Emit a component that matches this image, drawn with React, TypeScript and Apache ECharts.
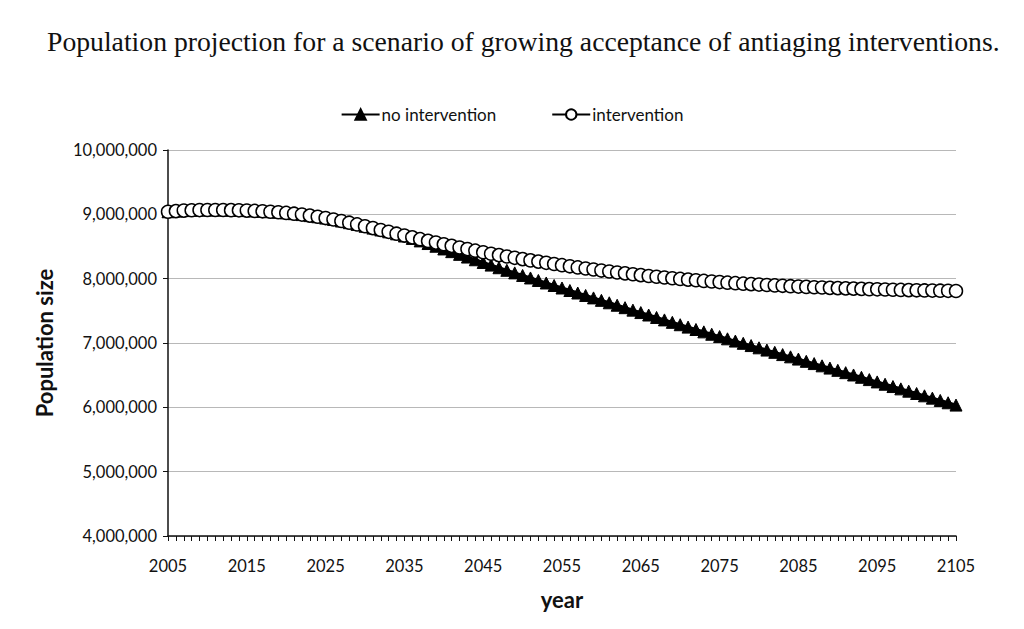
import React, { useEffect, useRef } from "react";
import * as echarts from "echarts";

const years: string[] = [
  "2005","2006","2007","2008","2009","2010","2011","2012","2013","2014",
  "2015","2016","2017","2018","2019","2020","2021","2022","2023","2024",
  "2025","2026","2027","2028","2029","2030","2031","2032","2033","2034",
  "2035","2036","2037","2038","2039","2040","2041","2042","2043","2044",
  "2045","2046","2047","2048","2049","2050","2051","2052","2053","2054",
  "2055","2056","2057","2058","2059","2060","2061","2062","2063","2064",
  "2065","2066","2067","2068","2069","2070","2071","2072","2073","2074",
  "2075","2076","2077","2078","2079","2080","2081","2082","2083","2084",
  "2085","2086","2087","2088","2089","2090","2091","2092","2093","2094",
  "2095","2096","2097","2098","2099","2100","2101","2102","2103","2104",
  "2105",
];

const noIntervention: number[] = [
  9040000, 9050000, 9058000, 9063000, 9066000, 9068000, 9068000, 9067000, 9065000, 9062000,
  9058000, 9053000, 9047000, 9040000, 9032000, 9022000, 9010000, 8996000, 8980000, 8962000,
  8942000, 8920000, 8896000, 8870000, 8843000, 8815000, 8786000, 8757000, 8728000, 8697000,
  8663000, 8626000, 8587000, 8546000, 8504000, 8462000, 8420000, 8378000, 8336000, 8294000,
  8252000, 8211000, 8170000, 8130000, 8090000, 8050000, 8011000, 7972000, 7933000, 7894000,
  7855000, 7816000, 7777000, 7739000, 7701000, 7663000, 7625000, 7587000, 7549000, 7511000,
  7473000, 7435000, 7397000, 7359000, 7321000, 7284000, 7247000, 7210000, 7173000, 7136000,
  7100000, 7065000, 7030000, 6995000, 6960000, 6925000, 6890000, 6855000, 6820000, 6785000,
  6750000, 6715000, 6680000, 6645000, 6610000, 6575000, 6539000, 6503000, 6467000, 6431000,
  6395000, 6359000, 6323000, 6287000, 6251000, 6215000, 6179000, 6143000, 6107000, 6071000,
  6035000,
];

const intervention: number[] = [
  9040000, 9050000, 9058000, 9063000, 9066000, 9068000, 9068000, 9067000, 9065000, 9062000,
  9058000, 9053000, 9047000, 9040000, 9032000, 9022000, 9010000, 8996000, 8980000, 8962000,
  8942000, 8920000, 8896000, 8870000, 8843000, 8815000, 8786000, 8757000, 8728000, 8699000,
  8670000, 8642000, 8614000, 8587000, 8561000, 8535000, 8510000, 8485000, 8460000, 8435000,
  8410000, 8388000, 8366000, 8345000, 8324000, 8304000, 8284000, 8265000, 8246000, 8228000,
  8210000, 8192000, 8175000, 8158000, 8142000, 8126000, 8111000, 8096000, 8082000, 8068000,
  8055000, 8042000, 8030000, 8018000, 8007000, 7996000, 7985000, 7975000, 7965000, 7956000,
  7947000, 7938000, 7930000, 7922000, 7915000, 7908000, 7901000, 7895000, 7889000, 7883000,
  7877000, 7872000, 7867000, 7862000, 7857000, 7853000, 7849000, 7845000, 7841000, 7837000,
  7834000, 7831000, 7828000, 7825000, 7822000, 7819000, 7817000, 7815000, 7813000, 7811000,
  7809000,
];

const seriesNames = ["no intervention", "intervention"];
const titleText =
  "Population projection for a scenario of growing acceptance of antiaging interventions.";
const yAxisName = "Population size";
const xAxisName = "year";

const SANS = "Lato, 'Open Sans', sans-serif";

export default function App() {
  const ref = useRef<HTMLDivElement>(null);

  useEffect(() => {
    if (!ref.current) return;
    const chart = echarts.init(ref.current, undefined, { renderer: "svg" });
    chart.setOption({
      animation: false,
      backgroundColor: "#ffffff",
      title: {
        text: titleText,
        left: 42,
        top: 22,
        textStyle: {
          fontFamily: "'Liberation Serif', 'DejaVu Serif', serif",
          fontWeight: "normal",
          fontSize: 27.7,
          color: "#111",
        },
      },
      legend: {
        data: seriesNames,
        top: 101,
        left: "center",
        itemWidth: 38,
        itemHeight: 13,
        itemGap: 55,
        textStyle: { fontFamily: SANS, fontSize: 17, color: "#111", padding: [0, 0, 0, -3] },
      },
      grid: { left: 168, right: 68, top: 150, bottom: 93, containLabel: false },
      xAxis: {
        type: "category",
        data: years,
        boundaryGap: false,
        name: xAxisName,
        nameLocation: "middle",
        nameGap: 52,
        nameTextStyle: { fontFamily: SANS, fontSize: 22, fontWeight: "bold", color: "#111" },
        axisLine: { lineStyle: { color: "#111", width: 1.5 } },
        axisTick: { show: true, interval: 0, length: 5, lineStyle: { color: "#111" } },
        axisLabel: {
          interval: 9,
          margin: 21,
          fontFamily: SANS,
          fontSize: 16.5,
          color: "#111",
        },
        splitLine: { show: false },
      },
      yAxis: {
        type: "value",
        min: 4000000,
        max: 10000000,
        interval: 1000000,
        name: yAxisName,
        nameLocation: "middle",
        nameGap: 113,
        nameRotate: 90,
        nameTextStyle: { fontFamily: SANS, fontSize: 22, fontWeight: "bold", color: "#111" },
        axisLine: { show: true, lineStyle: { color: "#111", width: 1.5 } },
        axisTick: { show: true, length: 5, lineStyle: { color: "#111" } },
        axisLabel: {
          margin: 11,
          fontFamily: SANS,
          fontSize: 16.5,
          color: "#111",
          formatter: (v: number) => v.toLocaleString("en-US"),
        },
        splitLine: { show: true, lineStyle: { color: "#b8b8b8", width: 1 } },
      },
      series: [
        {
          name: seriesNames[0],
          type: "line",
          data: noIntervention,
          symbol: "triangle",
          symbolSize: 12,
          showAllSymbol: true,
          lineStyle: { color: "#000", width: 3 },
          itemStyle: { color: "#000", borderColor: "#000", borderWidth: 1 },
          z: 2,
        },
        {
          name: seriesNames[1],
          type: "line",
          data: intervention,
          symbol: "circle",
          symbolSize: 13,
          showAllSymbol: true,
          lineStyle: { color: "#000", width: 3 },
          itemStyle: { color: "#fff", borderColor: "#000", borderWidth: 1.5 },
          z: 3,
        },
      ],
    });
    return () => chart.dispose();
  }, []);

  return (
    <div
      ref={ref}
      style={{ width: 1024, height: 629, position: "absolute", left: 0, top: 0 }}
    />
  );
}
